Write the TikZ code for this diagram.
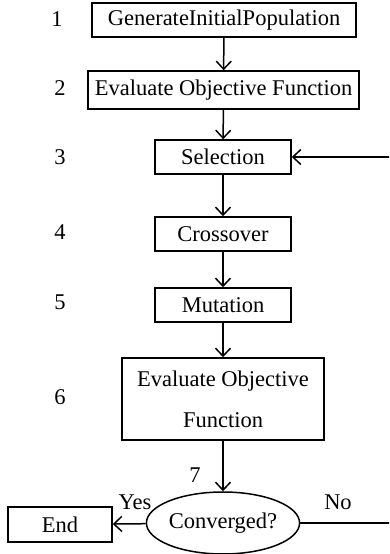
\documentclass[tikz,border=0pt]{standalone}
\usepackage{fontspec}
\setmainfont{Liberation Serif}
\usetikzlibrary{shapes.geometric,arrows.meta}

\tikzset{
  stepbox/.style={draw, line width=1.5pt, inner sep=0pt, minimum height=34pt, align=center},
  decision/.style={draw, ellipse, line width=1.5pt, inner sep=0pt, minimum width=136pt, minimum height=62pt},
  arr/.style={line width=1.5pt, -{Straight Barb[length=8pt,width=15pt,line width=1.5pt]}},
  num/.style={inner sep=0pt}
}

\begin{document}
\begin{tikzpicture}[x=1pt,y=1pt,font=\fontsize{22.5}{27}\selectfont]
        \useasboundingbox (0,0) rectangle (389,554);
        \clip (0,0) rectangle (389,554);
        % boxes of the loop
        \node[stepbox, minimum width=264pt] (gen) at (224,534) {GenerateInitialPopulation};
        \node[stepbox, minimum width=271pt, minimum height=38pt] (eval) at (223.5,464) {Evaluate Objective Function};
        \node[stepbox, minimum width=136pt] (sel) at (223,397) {Selection};
        \node[stepbox, minimum width=136pt] (cross) at (223,320) {Crossover};
        \node[stepbox, minimum width=136pt] (mut) at (223,249) {Mutation};
        \node[stepbox, minimum width=202pt, minimum height=82pt] (reval) at (223,155) {Evaluate Objective\\[14pt]Function};
        \node[decision] (conv) at (223,31) {Converged?};
        \node[stepbox, minimum width=104pt, minimum height=35pt] (stop) at (60,29.5) {End};
        % step numbers
        \node[num] (n1) at (57,535) {1};
        \node[num] (n2) at (60,466) {2};
        \node[num] (n3) at (60,397) {3};
        \node[num] (n4) at (60,322) {4};
        \node[num] (n5) at (60,252) {5};
        \node[num] (n6) at (60,157) {6};
        \node[num] (n7) at (195,79) {7};
        \node[num] (yes) at (135,52) {Yes};
        \node[num] (no) at (338,52) {No};
        % connectors
        \draw[arr] (gen) -- (eval);
        \draw[arr] (eval) -- (sel);
        \draw[arr] (sel) -- (cross);
        \draw[arr] (cross) -- (mut);
        \draw[arr] (mut) -- (reval);
        \draw[arr] (reval) -- (conv);
        \draw[arr] (conv) -- (stop);
        \coordinate (back) at (400,31);
        \draw[arr] (conv.east) -- (back) |- (sel.east);
    \end{tikzpicture}
\end{document}
